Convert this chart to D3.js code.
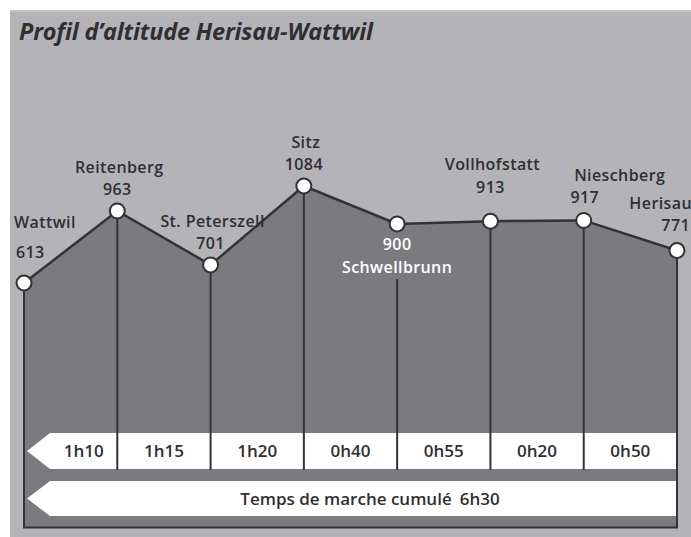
<!DOCTYPE html>
<html><head><meta charset="utf-8">
<script src="https://cdn.jsdelivr.net/npm/d3@7"></script>
<style>html,body{margin:0;padding:0;background:#fff;}svg{display:block;}</style>
</head><body>
<svg id="c" width="691" height="537"></svg>
<script>
// ---- data ----
const stations = ["Wattwil","Reitenberg","St. Peterszell","Sitz","Schwellbrunn","Vollhofstatt","Nieschberg","Herisau"];
const altitudes = [613, 963, 701, 1084, 900, 913, 917, 771];
const legTimes = ["1h10","1h15","1h20","0h40","0h55","0h20","0h50"];
const totalLabel = "Temps de marche cumulé";
const totalTime = "6h30";
const title = "Profil d’altitude Herisau-Wattwil";

// ---- drawing ----
const svg = d3.select("#c");
const W = 691, H = 537;
const font = "'Open Sans', sans-serif";
const ink = "#2f2f31";
const fs = 17, lfs = 16;

svg.append("rect").attr("x",10).attr("y",10).attr("width",W-10).attr("height",H-10).attr("fill","#b4b4b8");
svg.append("rect").attr("x",10).attr("y",10).attr("width",W-10).attr("height",2).attr("fill","#c3c3c6");

svg.append("text").attr("x",19).attr("y",40).text(title)
  .attr("font-family",font).attr("font-size",23.5).attr("font-weight",700).attr("font-style","italic")
  .attr("fill",ink).attr("letter-spacing",-0.2);

const x = d3.scalePoint().domain(stations).range([24, 677]);
const y = d3.scaleLinear().domain([600, 1100]).range([285.7, 182.7]);
const base = 527.5;
const pts = stations.map((s,i)=>({name:s, alt:altitudes[i], x:x(s), y:y(altitudes[i])}));

// profile area
const area = d3.area().x(d=>d.x).y0(base).y1(d=>d.y);
svg.append("path").datum(pts).attr("d",area).attr("fill","#7b7b7f");

// time row (arrow pointing left)
const rowTop = 433, rowBot = 469, arrowTip = 27, arrowBase = 50;
const barTop = 481, barBot = 516;
function arrowPath(t,b){
  const m=(t+b)/2;
  const r = x(stations[stations.length-1]);
  return `M${arrowTip},${m}L${arrowBase},${t}L${r},${t}L${r},${b}L${arrowBase},${b}Z`;
}
svg.append("path").attr("d",arrowPath(rowTop,rowBot)).attr("fill","#fff");
svg.append("path").attr("d",arrowPath(barTop,barBot)).attr("fill","#fff");

// vertical station lines (stop at the bottom of time row)
pts.forEach((p,i)=>{
  const startY = (p.name==="Schwellbrunn") ? p.y+55 : p.y;
  const endY = (i===0 || i===pts.length-1) ? base : rowBot+1;
  svg.append("line").attr("x1",p.x).attr("x2",p.x).attr("y1",startY).attr("y2",endY)
    .attr("stroke","#333335").attr("stroke-width",2);
});
// bottom border
svg.append("line").attr("x1",x(stations[0])-1).attr("x2",x(stations[stations.length-1])+1)
  .attr("y1",base).attr("y2",base).attr("stroke","#333335").attr("stroke-width",2);

// leg times
legTimes.forEach((t,i)=>{
  const left = i===0 ? arrowBase : x(stations[i]);
  const right = x(stations[i+1]);
  svg.append("text").attr("x",(left+right)/2).attr("y",(rowTop+rowBot)/2).attr("dy","0.36em")
    .attr("text-anchor","middle").attr("font-family",font).attr("font-weight",600).attr("font-size",fs)
    .attr("fill",ink).text(t);
});
// cumulative
const tt = svg.append("text").attr("x",370).attr("y",(barTop+barBot)/2).attr("dy","0.36em")
  .attr("text-anchor","middle").attr("font-family",font).attr("font-weight",600).attr("font-size",fs)
  .attr("fill",ink).attr("letter-spacing",0);
tt.append("tspan").text(totalLabel);
tt.append("tspan").attr("dx",8).text(totalTime);

// profile line
svg.append("path").datum(pts).attr("d",d3.line().x(d=>d.x).y(d=>d.y))
  .attr("fill","none").attr("stroke","#333335").attr("stroke-width",2.5);

// points
svg.selectAll("circle.pt").data(pts).join("circle").attr("class","pt")
  .attr("cx",d=>d.x).attr("cy",d=>d.y).attr("r",7.5)
  .attr("fill","#fff").attr("stroke","#333335").attr("stroke-width",2);

// labels
const layout = {
  "Wattwil":      {nx:14-24, ny:-61, vx:16-24, vy:-31, anchor:"start", vanchor:"start"},
  "Vollhofstatt": {nx:2, ny:-57, vx:0, vy:-34},
  "Nieschberg":   {nx:36, ny:-45, vx:1, vy:-23},
  "Herisau":      {nx:691-676, ny:-47, vx:689-676, vy:-25, anchor:"end", vanchor:"end"},
  "Schwellbrunn": {nx:0, ny:43, vx:0, vy:20, color:"#ffffff"}
};
pts.forEach(p=>{
  const L = Object.assign({nx:2, ny:-44, vx:0, vy:-22, anchor:"middle", vanchor:"middle", color:ink}, layout[p.name]||{});
  const g = svg.append("g").attr("font-family",font).attr("font-weight",600).attr("font-size",lfs)
    .attr("letter-spacing",0.4).attr("fill",L.color);
  g.append("text").attr("x",p.x+L.nx).attr("y",p.y+L.ny).attr("dy","0.36em").attr("text-anchor",L.anchor)
    .text(p.name);
  g.append("text").attr("x",p.x+L.vx).attr("y",p.y+L.vy).attr("dy","0.36em").attr("text-anchor",L.vanchor)
    .text(p.alt);
});
</script>
</body></html>
